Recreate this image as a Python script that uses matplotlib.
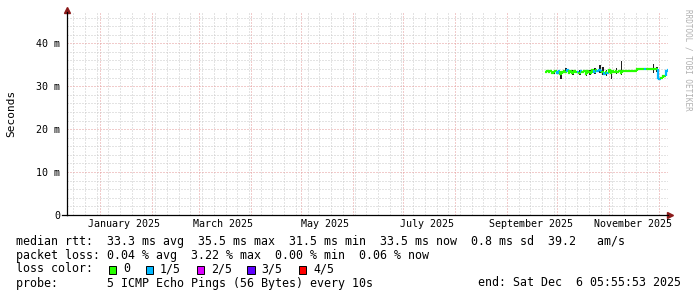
import datetime as dt
import matplotlib
matplotlib.use('Agg')
import matplotlib.pyplot as plt
import matplotlib.dates as mdates
from matplotlib.patches import Rectangle

# daily median rtt (ms), from 2025-09-24 to 2025-12-06
start = dt.datetime(2025, 9, 24)
median = [33.4, 33.5, 33.3, 33.5, 33.2, 33.4, 33.6, 33.1, 33.5, 32.9,
          33.4, 33.6, 33.3, 33.7, 33.2, 33.5, 33.0, 33.6, 33.3, 33.4,
          33.1, 33.6, 33.3, 33.5, 32.9, 33.6, 33.4, 33.2, 33.7, 33.3,
          33.8, 33.5, 33.9, 33.6, 33.4, 32.8, 33.4, 33.2, 33.7, 33.0,
          33.5, 33.3, 33.6, 33.4, 33.5, 33.2, 33.6, 33.6, 33.6, 33.6,
          33.6, 33.6, 33.6, 33.6, 33.6, 34.0, 34.0, 34.0, 34.0, 34.0,
          34.0, 34.0, 34.0, 34.0, 34.1, 34.0, 34.0, 31.9, 31.8, 32.0,
          32.4, 32.5, 33.6, 33.9]
# lost pings out of 5
loss = [0, 0, 0, 0, 0, 0, 0, 1, 1, 0,
        0, 0, 0, 1, 0, 0, 0, 0, 0, 1,
        0, 1, 0, 0, 0, 0, 0, 0, 0, 1,
        0, 1, 1, 1, 0, 1, 0, 1, 0, 0,
        0, 0, 0, 0, 0, 0, 0, 0, 0, 0,
        0, 0, 0, 0, 0, 0, 0, 0, 0, 1,
        0, 0, 0, 0, 0, 0, 0, 1, 1, 0,
        0, 0, 1, 1]
# smoke spikes: day index, low, high (ms)
smoke_day = [5, 9, 12, 16, 20, 24, 26, 29, 32, 34, 36, 39, 42, 45, 64, 66]
smoke_lo = [32.8, 31.7, 33.0, 32.6, 32.7, 32.4, 32.6, 32.9, 33.1, 32.6, 32.4, 31.6, 32.9, 32.6, 33.0, 33.4]
smoke_hi = [33.9, 33.5, 34.3, 33.7, 33.9, 33.5, 33.8, 34.3, 34.9, 34.6, 33.8, 33.6, 34.2, 35.8, 35.3, 34.6]

loss_colors = ['#26ff00', '#00b8ff', '#dd00ff', '#5e00ff', '#ff0000']
loss_labels = ['0', '1/5', '2/5', '3/5', '4/5']
month_labels = ['January 2025', 'March 2025', 'May 2025', 'July 2025',
                'September 2025', 'November 2025']
label_dates = [dt.datetime(2025, m, 15, 12) for m in (1, 3, 5, 7, 9, 11)]

W, H = 697, 297
fig = plt.figure(figsize=(W / 100, H / 100), dpi=100)
fig.patch.set_facecolor('white')
ax = fig.add_axes([67 / W, 1 - 215 / H, (668 - 67) / W, (215 - 12) / H])

t_end = dt.datetime(2025, 12, 6, 5, 56)
ax.set_xlim(t_end - dt.timedelta(days=359), t_end)
ax.set_ylim(0, 47.3)

mono = 'DejaVu Sans Mono'
major_c = '#e49898'
minor_c = '#c8c8c8'
dots = (0, (1, 2))

ax.xaxis.set_major_locator(mdates.MonthLocator())
ax.xaxis.set_minor_locator(mdates.WeekdayLocator(byweekday=mdates.MO))
ax.yaxis.set_major_locator(plt.MultipleLocator(10))
ax.yaxis.set_minor_locator(plt.MultipleLocator(2))
ax.grid(which='minor', color=minor_c, linestyle=dots, linewidth=0.72)
ax.grid(which='major', color=major_c, linestyle=dots, linewidth=0.72)
ax.set_axisbelow(True)
ax.set_xticklabels([])
ax.set_yticks([0, 10, 20, 30, 40])
ax.set_yticklabels(['0', '10 m', '20 m', '30 m', '40 m'], family=mono, fontsize=7.2)
ax.tick_params(which='both', length=0, pad=5)

for s in ('top', 'right'):
    ax.spines[s].set_visible(False)
for s in ('left', 'bottom'):
    ax.spines[s].set_linewidth(0.9)
    ax.spines[s].set_color('black')
ax.plot(0, 1.01, marker='^', color='#8b1a1a', markersize=4, transform=ax.transAxes, clip_on=False)
ax.plot(1.004, 0, marker='>', color='#8b1a1a', markersize=4, transform=ax.transAxes, clip_on=False)
ax.plot([-0.008, 0], [0, 0], color='black', linewidth=0.9, transform=ax.transAxes, clip_on=False)

for d, lab in zip(label_dates, month_labels):
    ax.annotate(lab, xy=(mdates.date2num(d), 0), xycoords=('data', 'axes fraction'),
                xytext=(0, -3), textcoords='offset points', ha='center', va='top',
                family=mono, fontsize=7.2)

# smoke
days = [start + dt.timedelta(days=i) for i in range(len(median) + 1)]
for i, lo, hi in zip(smoke_day, smoke_lo, smoke_hi):
    ax.fill_between([days[i], days[i + 1]], lo, hi, color='#202020', linewidth=0, step='pre')

# median line coloured by loss
for i, m in enumerate(median):
    prev = median[i - 1] if i > 0 else m
    ax.plot([days[i], days[i], days[i + 1]], [prev, m, m], color=loss_colors[loss[i]],
            linewidth=1.6, solid_capstyle='butt', solid_joinstyle='miter')

ax.set_ylabel('Seconds', family=mono, fontsize=8)
ax.yaxis.set_label_coords(-0.084, 0.5)

fig.text(688 / W, 1 - 60 / H, 'RRDTOOL / TOBI OETIKER', rotation=270, ha='center', va='center',
         family=mono, fontsize=5.5, color='#b0b0b0')

fs = 8.4
fig.text(16 / W, 1 - 242 / H,
         'median rtt:  33.3 ms avg  35.5 ms max  31.5 ms min  33.5 ms now  0.8 ms sd  39.2   am/s',
         family=mono, fontsize=fs, va='center')
fig.text(16 / W, 1 - 255 / H, 'packet loss: 0.04 % avg  3.22 % max  0.00 % min  0.06 % now',
         family=mono, fontsize=fs, va='center')
fig.text(16 / W, 1 - 269 / H, 'loss color:', family=mono, fontsize=fs, va='center')
box_x = [108.5, 145.5, 196.5, 247, 298.5]
for bx, c, lab in zip(box_x, loss_colors, loss_labels):
    fig.patches.append(Rectangle((bx / W, 1 - 273.5 / H), 7.5 / W, 8 / H, facecolor=c,
                                 edgecolor='black', linewidth=0.7, transform=fig.transFigure))
    fig.text((bx + 14.5) / W, 1 - 269 / H, lab, family=mono, fontsize=fs, va='center')
fig.text(16 / W, 1 - 283 / H, 'probe:       5 ICMP Echo Pings (56 Bytes) every 10s',
         family=mono, fontsize=fs, va='center')
fig.text(681 / W, 1 - 283 / H, 'end: Sat Dec  6 05:55:53 2025', family=mono, fontsize=fs,
         va='center', ha='right')

plt.savefig('out.png', dpi=100)
